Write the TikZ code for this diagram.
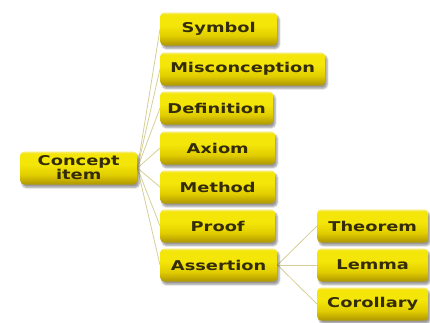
\documentclass[tikz,border=0pt]{standalone}
\usepackage{fontspec}
\usetikzlibrary{shadows.blur,backgrounds}
\newfontface\boxfont{DejaVu Sans Bold}[FakeStretch=1.32]
\definecolor{linkclr}{RGB}{214,206,150}
\definecolor{txtclr}{RGB}{52,44,8}
\definecolor{ylwedge}{RGB}{246,236,110}
\definecolor{ylwhi}{RGB}{244,230,8}
\definecolor{ylwmid}{RGB}{226,206,0}
\definecolor{ylwlow}{RGB}{178,154,0}
% the box path spans 25bp (bottom) to 75bp (top) of this shading
\pgfdeclareverticalshading{yellowbox}{100bp}{%
  color(0bp)=(ylwlow); color(26bp)=(ylwlow); color(40bp)=(ylwmid);
  color(56bp)=(ylwhi); color(72bp)=(ylwhi); color(74.5bp)=(ylwedge); color(100bp)=(ylwedge)}
\tikzset{
  item/.style={draw=none, shading=yellowbox, rounded corners=4pt,
    minimum height=33pt, inner sep=0pt, anchor=west,
    font=\boxfont\fontsize{13.5}{13}\selectfont, text=txtclr, align=center,
    blur shadow={shadow xshift=2pt, shadow yshift=-3pt, shadow opacity=40, shadow blur steps=6}},
  link/.style={draw=linkclr, line width=0.8pt}
}
\begin{document}
\begin{tikzpicture}[x=1pt,y=-1pt]
\useasboundingbox (0,0) rectangle (430,322);
% root
\node[item, minimum width=117pt] (concept) at (20,168) {Concept\\item};
% first level
\node[item, minimum width=117pt] (symbol) at (160,29) {Symbol};
\node[item, minimum width=165pt] (miscon) at (160,69) {Misconception};
\node[item, minimum width=113pt] (defn)   at (160,108) {Definition};
\node[item, minimum width=115pt] (axiom)  at (160,148) {Axiom};
\node[item, minimum width=115pt] (method) at (160,187) {Method};
\node[item, minimum width=115pt] (proof)  at (160,226) {Proof};
\node[item, minimum width=117pt] (assert) at (160,265) {Assertion};
% second level
\node[item, minimum width=111pt] (thm)   at (317,226) {Theorem};
\node[item, minimum width=111pt] (lemma) at (317,265) {Lemma};
\node[item, minimum width=111pt] (coro)  at (317,304) {Corollary};
% connectors
\begin{scope}[on background layer]
\foreach \n in {symbol,miscon,defn,axiom,method,proof,assert}
  \draw[link] (concept.east) -- (\n.west);
\foreach \n in {thm,lemma,coro}
  \draw[link] (assert.east) -- (\n.west);
\end{scope}
\end{tikzpicture}
\end{document}
